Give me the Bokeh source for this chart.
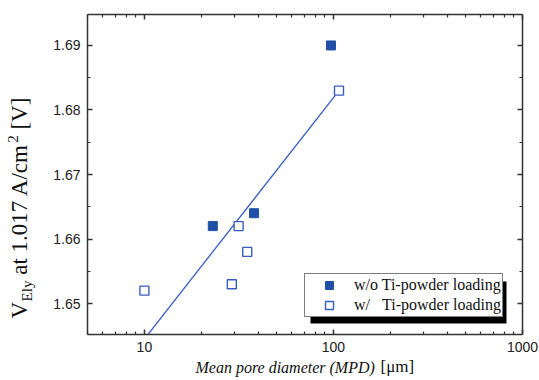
import numpy as np
from bokeh.plotting import figure
from bokeh.layouts import row, column
from bokeh.models import (Range1d, LinearAxis, LogAxis, Legend, LegendItem,
                          BoxAnnotation, FixedTicker, SingleIntervalTicker,
                          CustomJSTickFormatter, NumeralTickFormatter)
from bokeh.core.properties import value
from bokeh.embed import file_html
from bokeh.resources import INLINE

# ---- data ----
wo_mpd = [23, 38, 97]                 # w/o Ti-powder loading (filled)
wo_v = [1.662, 1.664, 1.690]
w_mpd = [10, 29, 31.5, 35, 107]       # w/ Ti-powder loading (open)
w_v = [1.652, 1.653, 1.662, 1.658, 1.683]
fit_mpd = [10, 107]                   # fitted line
fit_v = [1.6445, 1.683]
x_major = [10, 100, 1000]
x_minor = [m * 10 ** e for e in (0, 1, 2) for m in range(2, 10)]
legend_labels = ["w/o Ti-powder loading", "w/\u00a0\u00a0\u00a0Ti-powder loading"]
xlabel_italic = "Mean pore diameter (MPD)"
xlabel_unit = "[\u03bcm]"

BLUE_FILL = "#1f4fa6"
BLUE_LINE = "#3a5cc0"
AXIS = "#333333"
TXT = "#111111"
SANS = "Liberation Sans"
SERIF = "Liberation Serif"

W, H = 539, 380
YL_W = 44          # width of the y-label strip
XL_H = 22          # height of the x-label strip
MW, MH = W - YL_W, H - XL_H
K = 0.45           # baseline offset of rotated/strip text, in em

p = figure(width=MW, height=MH, x_axis_type="log", title=None,
           x_range=Range1d(5, 1000), y_range=Range1d(1.6452, 1.6948),
           output_backend="svg", toolbar_location=None,
           min_border_left=87 - YL_W, min_border_right=W - 522,
           min_border_top=14, min_border_bottom=MH - 334)
p.frame_align = False
p.grid.visible = False
p.outline_line_color = None

xt = FixedTicker(ticks=x_major, minor_ticks=x_minor)
yt = SingleIntervalTicker(interval=0.01, num_minor_ticks=2)


def style(ax, labels=True):
    ax.axis_line_color = AXIS
    ax.axis_line_width = 1.5
    ax.major_tick_line_color = AXIS
    ax.minor_tick_line_color = AXIS
    ax.major_tick_line_width = 1.5
    ax.minor_tick_line_width = 1.2
    ax.major_tick_in = 5
    ax.major_tick_out = 0
    ax.minor_tick_in = 3
    ax.minor_tick_out = 0
    if labels:
        ax.major_label_text_font = SANS
        ax.major_label_text_font_size = "14px"
        ax.major_label_text_color = "#222222"
    else:
        ax.major_label_text_font_size = "0px"
        ax.major_label_standoff = 0
        ax.formatter = CustomJSTickFormatter(code="return ''")


xa = p.xaxis[0]
xa.ticker = xt
xa.formatter = NumeralTickFormatter(format="0")
style(xa)
xa.major_label_standoff = 7
ya = p.yaxis[0]
ya.ticker = yt
style(ya)
ya.major_label_standoff = 7

top = LogAxis(ticker=xt)
style(top, labels=False)
p.add_layout(top, "above")
right = LinearAxis(ticker=yt)
style(right, labels=False)
p.add_layout(right, "right")

# fitted line and markers
p.line(fit_mpd, fit_v, line_color=BLUE_LINE, line_width=1.3)
r_wo = p.scatter(wo_mpd, wo_v, marker="square", size=9, fill_color=BLUE_FILL,
                 line_color=BLUE_FILL, line_width=1)
r_w = p.scatter(w_mpd, w_v, marker="square", size=9, fill_color="white",
                line_color=BLUE_LINE, line_width=1.4)

# legend with drop shadow
shadow = BoxAnnotation(left=223, right=419, top=53, bottom=11,
                       left_units="screen", right_units="screen",
                       top_units="screen", bottom_units="screen",
                       fill_color="black", fill_alpha=1, line_color=None)
p.add_layout(shadow)
legend = Legend(items=[LegendItem(label=legend_labels[0], renderers=[r_wo]),
                       LegendItem(label=legend_labels[1], renderers=[r_w])],
                location=(217, 17), margin=0, padding=1, spacing=0,
                glyph_width=46, glyph_height=20, label_height=20,
                label_standoff=2, label_text_font=SERIF,
                label_text_font_size="16px", label_text_color=TXT,
                border_line_color="black", border_line_width=1,
                background_fill_color="white", background_fill_alpha=1)
p.add_layout(legend, "center")


def strip(w, h):
    f = figure(width=w, height=h, x_range=Range1d(0, w), y_range=Range1d(0, h),
               title=None, output_backend="svg", toolbar_location=None,
               x_axis_location=None, y_axis_location=None,
               min_border=0, min_border_left=0, min_border_right=0,
               min_border_top=0, min_border_bottom=0)
    f.frame_align = False
    f.grid.visible = False
    f.outline_line_color = None
    return f


# ---- y label strip: V_Ely at 1.017 A/cm^2 [V] (rotated) ----
yl = strip(YL_W, MH)
fs, sub = 23, 15
base_x = 29                      # wanted baseline of the main text
y0 = MH - 318
pos_v = y0
pos_ely = pos_v + 0.722 * fs + 0.5
pos_at = pos_ely + 1.389 * sub + 0.25 * fs
pos_sup = pos_at + 5.694 * fs + 1
pos_br = pos_sup + 0.5 * sub + 0.25 * fs
pieces = dict(
    text=["V", "Ely", "at 1.017 A/cm", "2", "[V]"],
    x=[base_x - K * fs, base_x + 4 - K * sub, base_x - K * fs,
       base_x - 9.5 - K * sub, base_x - K * fs],
    y=[pos_v, pos_ely, pos_at, pos_sup, pos_br],
    size=[f"{fs}px", f"{sub}px", f"{fs}px", f"{sub}px", f"{fs}px"],
)
yl.text(x="x", y="y", text="text", source=pieces, angle=np.pi / 2,
        text_font=value(SERIF), text_font_size="size", text_color=TXT,
        text_align="left", text_baseline="alphabetic")

# ---- x label strip ----
xl = strip(W, XL_H)
xfs, ufs = 16, 17
base_y = H - 374
xl.text(x=[195], y=[base_y + K * xfs], text=[xlabel_italic], text_font=value(SERIF),
        text_font_style="italic", text_font_size=f"{xfs}px", text_color=TXT,
        text_align="left", text_baseline="alphabetic")
xl.text(x=[380], y=[base_y + K * ufs], text=[xlabel_unit], text_font=value(SERIF),
        text_font_size=f"{ufs}px", text_color=TXT,
        text_align="left", text_baseline="alphabetic")

layout = column(row(yl, p), xl)
open("out.html", "w").write(file_html(layout, INLINE))
